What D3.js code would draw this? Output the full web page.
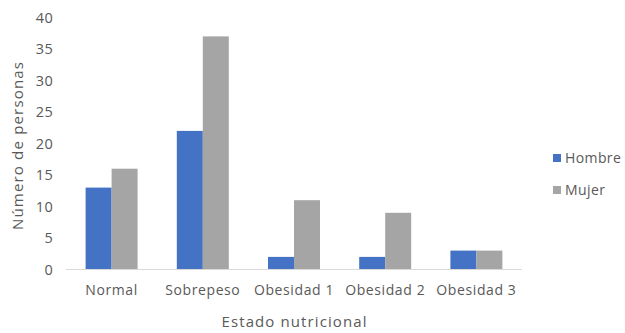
<!DOCTYPE html>
<html><head><meta charset="utf-8">
<script src="https://cdn.jsdelivr.net/npm/d3@7"></script>
<style>body{margin:0;background:#fff}text{font-family:"Open Sans",sans-serif;fill:#595959}</style>
</head><body><svg id="c" width="625" height="333"></svg>
<script>
const categories = ["Normal","Sobrepeso","Obesidad 1","Obesidad 2","Obesidad 3"];
const seriesNames = ["Hombre","Mujer"];
const hombre = [13,22,2,2,3];
const mujer = [16,37,11,9,3];
const yTicks = [0,5,10,15,20,25,30,35,40];
const colors = ["#4472C4","#A5A5A5"];

const svg = d3.select("#c");
const x0 = 66, x1 = 522, yTop = 17.5, yBot = 269.5;
const x = d3.scaleBand().domain(categories).range([x0,x1]).paddingInner(0.43).paddingOuter(0.215);
const xs = d3.scaleBand().domain(seriesNames).range([0,x.bandwidth()]);
const y = d3.scaleLinear().domain([0,40]).range([yBot,yTop]);
const data = categories.map((c,i)=>({c, vals:[hombre[i],mujer[i]]}));

const g = svg.append("g");
g.selectAll("g.cat").data(data).join("g").attr("transform",d=>`translate(${x(d.c)},0)`)
 .selectAll("rect").data(d=>d.vals.map((v,j)=>({v,s:seriesNames[j],j})))
 .join("rect").attr("x",d=>xs(d.s)).attr("width",xs.bandwidth())
 .attr("y",d=>y(d.v)).attr("height",d=>y(0)-y(d.v)).attr("fill",d=>colors[d.j]);

svg.append("line").attr("x1",x0).attr("x2",x1).attr("y1",yBot).attr("y2",yBot).attr("stroke","#D9D9D9").attr("stroke-width",1);

const yAxis = d3.axisLeft(y).tickValues(yTicks).tickSize(0).tickPadding(0);
const ya = svg.append("g").attr("transform","translate(53,0)").call(yAxis);
ya.select(".domain").remove();
ya.selectAll("text").attr("font-size",14.5).attr("font-family","Open Sans").attr("fill","#595959").attr("letter-spacing",0.3);

const xAxis = d3.axisBottom(x).tickSize(0).tickPadding(0);
const xa = svg.append("g").attr("transform",`translate(0,${yBot+16})`).call(xAxis);
xa.select(".domain").remove();
xa.selectAll("text").attr("font-size",14).attr("font-family","Open Sans").attr("fill","#595959").attr("letter-spacing",0.6);

svg.append("text").attr("x",294).attr("y",327).attr("text-anchor","middle").attr("font-size",15)
  .attr("textLength",145).attr("lengthAdjust","spacing").text("Estado nutricional");
svg.append("text").attr("transform","translate(23,146) rotate(-90)").attr("text-anchor","middle").attr("font-size",15)
  .attr("textLength",168).attr("lengthAdjust","spacing").text("Número de personas");

const lg = svg.append("g");
seriesNames.forEach((s,i)=>{
  const yy = 158 + i*32;
  lg.append("rect").attr("x",553).attr("y",yy-4).attr("width",8).attr("height",8).attr("fill",colors[i]);
  lg.append("text").attr("x",565).attr("y",yy).attr("dy","0.35em").attr("font-size",14).attr("letter-spacing",0.4).text(s);
});
</script></body></html>
